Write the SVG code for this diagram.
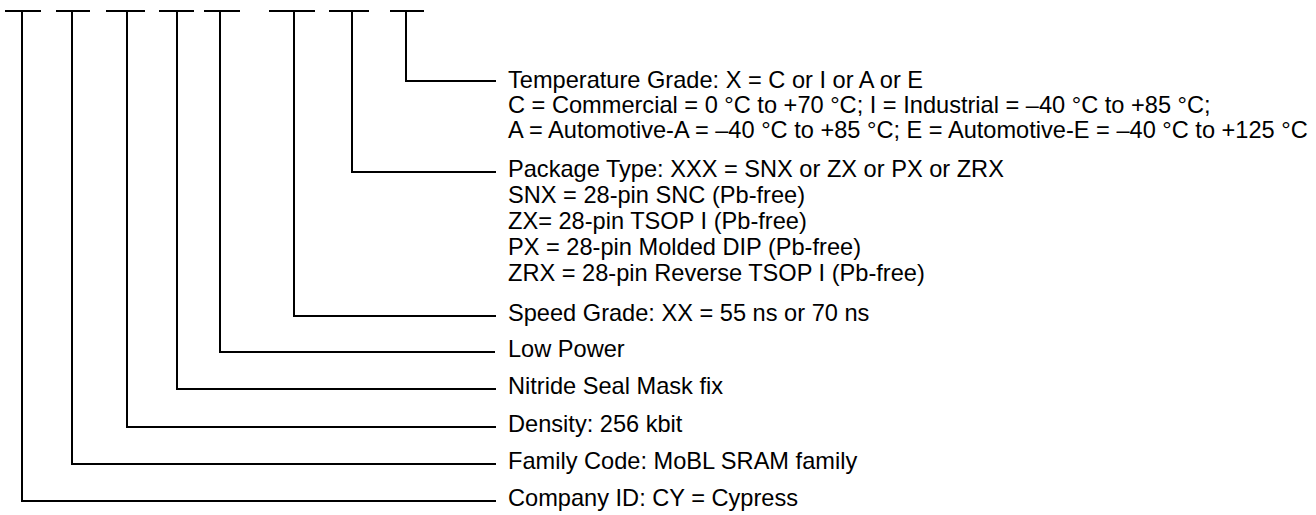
<svg xmlns="http://www.w3.org/2000/svg" width="1316" height="515" viewBox="0 0 1316 515">
<style>
.ln{fill:none;stroke:#000;stroke-width:2;stroke-linecap:square}
.t{font-family:"Liberation Sans",Arial,sans-serif;font-size:23.6px;fill:#000}
</style>
<rect width="1316" height="515" fill="#fff"/>
<g id="connectors">
<path class="ln" d="M6 11H40M22 11V501H495"/>
<path class="ln" d="M57 11H89M72 11V464H495"/>
<path class="ln" d="M107 11H144M127 11V427H495"/>
<path class="ln" d="M160 11H193M177 11V389H495"/>
<path class="ln" d="M205 11H239M220 11V352H494"/>
<path class="ln" d="M270 11H314M294 11V316H495"/>
<path class="ln" d="M330 11H368M352 11V172H495"/>
<path class="ln" d="M391 11H423M406 11V81H495"/>
</g>
<g id="temperature"><text class="t" x="508" y="88">Temperature Grade: X = C or I or A or E</text><text class="t" x="508" y="113">C = Commercial = 0 °C to +70 °C; I = Industrial = –40 °C to +85 °C;</text><text class="t" x="508" y="138">A = Automotive-A = –40 °C to +85 °C; E = Automotive-E = –40 °C to +125 °C</text></g>
<g id="package"><text class="t" x="508" y="177">Package Type: XXX = SNX or ZX or PX or ZRX</text><text class="t" x="508" y="203">SNX = 28-pin SNC (Pb-free)</text><text class="t" x="508" y="229">ZX= 28-pin TSOP I (Pb-free)</text><text class="t" x="508" y="255">PX = 28-pin Molded DIP (Pb-free)</text><text class="t" x="508" y="281">ZRX = 28-pin Reverse TSOP I (Pb-free)</text></g>
<g id="speed"><text class="t" x="508" y="321">Speed Grade: XX = 55 ns or 70 ns</text></g>
<g id="lowpower"><text class="t" x="508" y="357">Low Power</text></g>
<g id="nitride"><text class="t" x="508" y="394">Nitride Seal Mask fix</text></g>
<g id="density"><text class="t" x="508" y="432">Density: 256 kbit</text></g>
<g id="family"><text class="t" x="508" y="469">Family Code: MoBL SRAM family</text></g>
<g id="company"><text class="t" x="508" y="506">Company ID: CY = Cypress</text></g>
</svg>
